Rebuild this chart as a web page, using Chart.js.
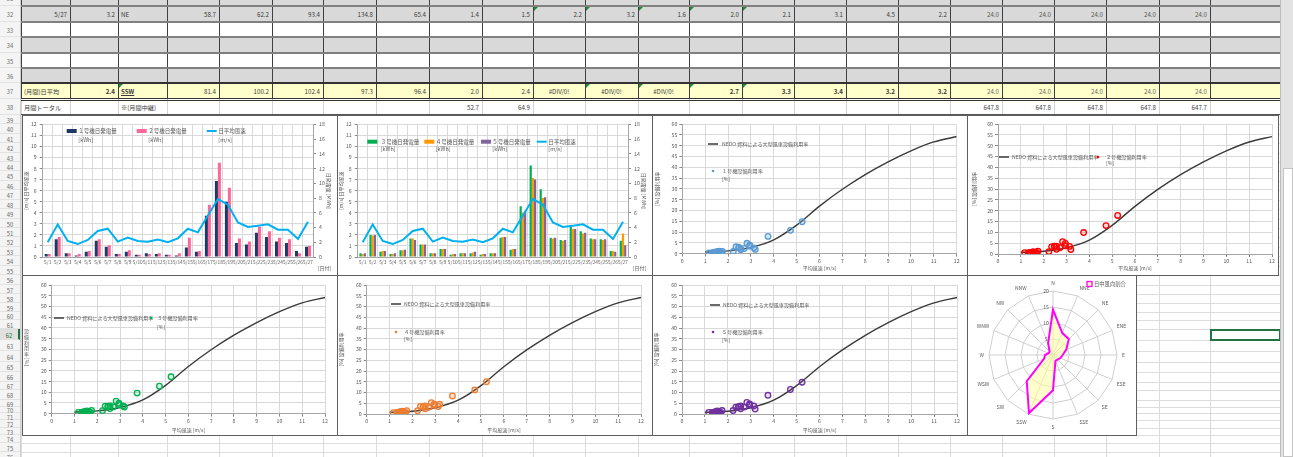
<!DOCTYPE html>
<html lang="ja">
<head>
<meta charset="utf-8">
<title>風力発電 月間集計</title>
<script src="https://cdn.jsdelivr.net/npm/chart.js@4.4.1/dist/chart.umd.min.js"></script>
<style>
html,body{margin:0;padding:0;background:#fff;}
body{width:1293px;height:457px;overflow:hidden;position:relative;font-family:"Noto Sans CJK JP","Noto Sans",sans-serif;}
#sheet{position:absolute;left:0;top:0;width:1293px;height:457px;}
.ln{position:absolute;box-sizing:border-box;}
.cell{position:absolute;box-sizing:border-box;font-size:6.2px;color:#3a3a3a;white-space:nowrap;padding:0 3px;}
.rh{position:absolute;left:0;width:20px;font-size:5.8px;color:#6a6a6a;text-align:center;box-sizing:border-box;}
.chartbox{position:absolute;box-sizing:border-box;border:1px solid #5f5f5f;background:#fff;}
.chartbox canvas{position:absolute;left:0;top:0;}
</style>
</head>
<body>
<div id="sheet"></div>
<script>
// ---- daily records (May) ----
const days = ['5/1','5/2','5/3','5/4','5/5','5/6','5/7','5/8','5/9','5/10','5/11','5/12','5/13','5/14',
  '5/15','5/16','5/17','5/18','5/19','5/20','5/21','5/22','5/23','5/24','5/25','5/26','5/27'];
// daily mean wind speed [m/s]
const windAvg = [1.33,2.95,1.45,1.17,1.54,2.35,2.56,1.39,1.75,1.45,1.39,1.57,1.33,1.69,
  2.56,2.23,3.75,5.24,4.73,3.13,2.71,2.83,2.95,2.47,2.47,1.63,3.19];
// daily generation per turbine
const gen1 = [0.4,2.4,0.5,0.2,0.7,2.2,1.4,0.4,0.7,0.3,0.5,0.4,0.3,0.2,1.3,0.7,5.6,10.3,7.5,1.9,1.7,3.3,2.7,2.1,1.9,0.8,1.4];
const gen2 = [0.4,2.7,0.5,0.4,0.8,2.4,1.6,0.4,0.9,0.3,0.4,0.5,0.3,0.5,2.6,0.8,7.1,12.8,9.4,2.5,2.1,4.1,3.5,2.6,2.4,0.5,1.5];
const gen3 = [0.5,3.0,0.7,0.4,0.9,2.5,1.7,0.5,1.1,0.3,0.5,0.5,0.3,0.5,2.6,1.0,6.9,12.4,9.2,2.6,2.3,4.2,3.5,2.5,2.4,0.8,2.2];
const gen4 = [0.4,2.9,0.8,0.4,0.9,2.5,1.7,0.5,1.1,0.4,0.5,0.6,0.4,0.5,2.7,1.1,6.0,10.7,8.0,2.5,2.2,3.8,3.2,2.4,2.3,0.8,3.2];
const gen5 = [0.5,3.0,0.8,0.5,1.0,2.3,1.7,0.5,1.1,0.4,0.5,0.7,0.4,0.5,2.7,1.1,6.2,10.5,8.1,2.6,2.3,3.8,3.3,2.4,2.4,0.7,1.6];
// daily capacity factor per turbine [%]
const cf1 = [0.5,3.5,0.7,0.3,1.0,3.2,2.0,0.6,1.0,0.4,0.7,0.6,0.4,0.3,1.9,1.0,8.0,14.8,10.8,2.7,2.4,4.8,3.9,3.0,2.7,1.2,2.0];
const cf2 = [0.5,3.8,0.7,0.6,1.1,3.3,2.2,0.6,1.3,0.4,0.6,0.7,0.4,0.7,3.6,1.1,9.9,17.8,13.1,3.5,2.9,5.7,4.9,3.6,3.3,0.7,2.1];
const cf3 = [0.7,4.2,1.0,0.6,1.3,3.5,2.4,0.7,1.5,0.4,0.7,0.7,0.4,0.7,3.6,1.4,9.6,17.2,12.8,3.6,3.2,5.8,4.9,3.5,3.3,1.1,3.1];
const cf4 = [0.6,4.0,1.1,0.6,1.3,3.5,2.4,0.7,1.5,0.6,0.7,0.8,0.6,0.7,3.8,1.5,8.4,15.0,11.2,3.5,3.1,5.3,4.5,3.4,3.2,1.1,4.5];
const cf5 = [0.7,4.2,1.1,0.7,1.4,3.2,2.4,0.7,1.6,0.6,0.7,1.0,0.6,0.7,3.8,1.6,8.7,14.8,11.4,3.7,3.2,5.4,4.7,3.4,3.4,1.0,2.3];
// NEDO reference curve for large turbines
const nedoSpeed = [1,2,3,4,5,6,7,8,9,10,11,12];
const nedoCF = [0.8,1.3,2.9,6.4,13.2,22.0,29.8,36.6,42.5,47.6,51.7,54.2];
// daytime wind direction share [%]
const directions = ['N','NNE','NE','ENE','E','ESE','SE','SSE','S','SSW','SW','WSW','W','WNW','NW','NNW'];
const dirShare = [14.2,7.5,7.0,4.5,3.0,2.5,2.0,2.0,11.0,19.6,11.6,3.0,2.5,1.5,1.5,4.0];
// sheet rows
const row32 = ['5/27','3.2','NE','58.7','62.2','93.4','134.8','65.4','1.4','1.5','2.2','3.2','1.6','2.0','2.1','3.1','4.5','2.2','24.0','24.0','24.0','24.0','24.0',''];
const row37 = ['(月間)日平均','2.4','SSW','81.4','100.2','102.4','97.3','96.4','2.0','2.4','#DIV/0!','#DIV/0!','#DIV/0!','2.7','3.3','3.4','3.2','3.2','24.0','24.0','24.0','24.0','24.0',''];
const row38 = ['月間トータル','','※(月間中継)','','','','','','52.7','64.9','','','','','','','','','647.8','647.8','647.8','647.8','647.7',''];

// ---- worksheet background ----
const sheet = document.getElementById('sheet');
const px = v => v + 'px';
function div(cls, css, text) {
  const d = document.createElement('div');
  d.className = cls;
  Object.assign(d.style, css);
  if (text != null) d.textContent = text;
  sheet.appendChild(d);
  return d;
}
const colEdges = [21,70,118,167,219,272,323,376,429,482,533,585,638,689,742,794,846,898,950,1002,1054,1106,1159,1210,1280];
const topEdges = [-10,6,22,37,53,68,83,99,115]; // rows 31..38
const lowEdges = [];
for (let i = 0; i <= 17; i++) lowEdges.push(115 + i * 160 / 17);
[285,294,303,312,320,329,340,351,362,372,382,390,400,407,413,420,428,435,443,452,461].forEach(v => lowEdges.push(v));

// light cell grid below the table
lowEdges.forEach(y => div('ln', {left:px(21), top:px(Math.round(y)), width:px(1259), height:'1px', background:'#dcdcdc'}));
colEdges.forEach(x => div('ln', {left:px(x), top:px(115), width:'1px', height:px(342), background:'#dcdcdc'}));

// row header column
div('ln', {left:0, top:0, width:px(21), height:px(457), background:'#f4f4f4', borderRight:'1px solid #cfcfcf'});
function rowHead(n, y0, y1) {
  const h = y1 - y0;
  const d = div('rh', {top:px(y0), height:px(h), lineHeight:px(h + 2), borderBottom:'1px solid #e2e2e2'}, String(n));
  if (n === 62) Object.assign(d.style, {color:'#217346', background:'#e0e0e0', borderRight:'2px solid #217346'});
}
for (let r = 31; r <= 38; r++) rowHead(r, topEdges[r - 31], topEdges[r - 30]);
for (let r = 39; r <= 76; r++) rowHead(r, lowEdges[r - 39], lowEdges[r - 38]);

// table rows 31..38
const rowFill = {31:'#d9d9d9',32:'#d9d9d9',33:'#ffffff',34:'#d9d9d9',35:'#ffffff',36:'#d9d9d9',37:'#ffffcc',38:'#ffffff'};
for (let r = 31; r <= 38; r++) {
  const y0 = topEdges[r - 31], y1 = topEdges[r - 30];
  div('ln', {left:px(21), top:px(y0), width:px(1259), height:px(y1 - y0), background:rowFill[r]});
  colEdges.forEach(x => div('ln', {left:px(x), top:px(y0), width:'1px', height:px(y1 - y0), background: r === 38 ? '#d4d4d4' : '#3f3f3f'}));
}
[6,22,37,53,68].forEach(y => div('ln', {left:px(21), top:px(y - 1), width:px(1259), height:'2px', background:'#808080'}));
div('ln', {left:px(21), top:px(82), width:px(1259), height:'2px', background:'#333'});
div('ln', {left:px(21), top:px(98), width:px(1259), height:'3px', borderTop:'1px solid #333', borderBottom:'1px solid #333'});
div('ln', {left:px(21), top:px(114), width:px(1259), height:'1px', background:'#555'});

function fillRow(vals, y0, y1, fmt) {
  vals.forEach((v, i) => {
    if (!v) return;
    const f = fmt(i, v);
    const css = {left:px(colEdges[i]), top:px(y0), width:px(colEdges[i + 1] - colEdges[i]), height:px(y1 - y0),
      lineHeight:px(y1 - y0 + 1), textAlign:f.align};
    if (f.bold) css.fontWeight = 'bold';
    if (f.underline) css.textDecoration = 'underline';
    if (f.color) css.color = f.color;
    div('cell', css, v);
  });
}
const numAlign = (i, v) => (i === 2 ? 'left' : (v.startsWith('#') ? 'center' : 'right'));
fillRow(row32, 6, 22, (i, v) => ({align: numAlign(i, v), color: i >= 18 ? '#555' : null}));
fillRow(row37, 83, 99, (i, v) => ({align: i === 0 ? 'left' : numAlign(i, v),
  bold: i === 1 || i === 2 || (i >= 13 && i <= 17), underline: i === 2, color: i >= 18 ? '#666' : null}));
fillRow(row38, 99, 115, (i, v) => ({align: (i === 0 || i === 2) ? 'left' : 'right'}));

// error-check markers
function flag(col, y) {
  div('ln', {left:px(colEdges[col] + 1), top:px(y), width:0, height:0,
    borderTop:'4px solid #1e8a3c', borderRight:'4px solid transparent'});
}
[10,11,12,13,14].forEach(c => flag(c, 7));
[2,11,12,13,14].forEach(c => flag(c, 84));

// selected cell and scroll bar
div('ln', {left:px(1210), top:px(329), width:px(71), height:px(12), border:'2px solid #217346'});
div('ln', {left:px(1280), top:0, width:px(13), height:px(457), background:'#e3e3e3', borderLeft:'1px solid #bdbdbd'});
div('ln', {left:px(1283), top:px(168), width:px(10), height:px(289), background:'#fff', border:'1px solid #c4c4c4'});

// ---- charts ----
Chart.defaults.font.family = '"Noto Sans CJK JP", "Noto Sans", sans-serif';
Chart.defaults.font.size = 5.2;
Chart.defaults.color = '#595959';
Chart.defaults.animation = false;

const GRID = '#d9d9d9', AXIS = '#a6a6a6', TICK = '#8c8c8c';
const TITLE_FONT = {size: 5};
const LEG_SIZE = 5.5;

// legend text and free labels placed inside the chart frame
const sheetLegend = {
  id: 'sheetLegend',
  afterDraw(chart, args, o) {
    if (!o || (!o.items && !o.texts)) return;
    const ctx = chart.ctx;
    const fnt = s => `${s}px "Noto Sans CJK JP", sans-serif`;
    ctx.save();
    ctx.textBaseline = 'middle';
    (o.items || []).forEach(it => {
      const y = it.y;
      if (it.kind === 'bar') {
        ctx.fillStyle = it.color; ctx.fillRect(it.x, y - 2, it.w || 10, 4);
      } else if (it.kind === 'line') {
        ctx.strokeStyle = it.color; ctx.lineWidth = it.lw || 2;
        ctx.beginPath(); ctx.moveTo(it.x, y); ctx.lineTo(it.x + (it.w || 10), y); ctx.stroke();
      } else if (it.kind === 'dot') {
        ctx.fillStyle = it.color; ctx.beginPath(); ctx.arc(it.x, y, 1.3, 0, Math.PI * 2); ctx.fill();
      } else if (it.kind === 'box') {
        ctx.fillStyle = it.fill; ctx.fillRect(it.x, y - 2.5, 5, 5);
        ctx.strokeStyle = it.color; ctx.lineWidth = 1.3; ctx.strokeRect(it.x, y - 2.5, 5, 5);
      }
      ctx.fillStyle = '#595959';
      ctx.font = fnt(o.size || LEG_SIZE);
      ctx.textAlign = 'left';
      it.text.forEach((t, i) => ctx.fillText(t, it.tx, y + i * (o.lh || 8)));
    });
    (o.texts || []).forEach(t => {
      ctx.fillStyle = '#595959';
      ctx.font = fnt(t.size || 5);
      if (t.stack) {
        ctx.textAlign = 'center';
        const lh = t.lh || 5.8;
        [...t.stack].forEach((ch, i) => ctx.fillText(ch, t.x, t.y + i * lh));
        if (t.rot) {
          const w = ctx.measureText(t.rot).width;
          ctx.save();
          ctx.translate(t.x, t.y + t.stack.length * lh + w / 2 - lh / 2 + 1);
          ctx.rotate(Math.PI / 2);
          ctx.fillText(t.rot, 0, 0);
          ctx.restore();
        }
      } else {
        ctx.textAlign = t.align || 'left';
        ctx.fillText(t.text, t.x, t.y);
      }
    });
    ctx.restore();
  }
};
Chart.register(sheetLegend);

function chartCanvas(x, y, w, h) {
  const box = div('chartbox', {left:px(x), top:px(y), width:px(w), height:px(h)});
  const c = document.createElement('canvas');
  c.width = w - 2; c.height = h - 2;
  c.style.width = px(w - 2); c.style.height = px(h - 2);
  box.appendChild(c);
  return c;
}

// daily generation (bars, right axis) with daily mean wind (line, left axis)
function genChart(canvas, bars, catPct, legend) {
  const datasets = [{type:'line', label:'日平均風速', data:windAvg, yAxisID:'y', borderColor:'#00b0f0',
    borderWidth:2, pointRadius:0, tension:0, order:0}];
  bars.forEach(b => datasets.push({type:'bar', label:b.label, data:b.data, yAxisID:'y1',
    backgroundColor:b.color, categoryPercentage:catPct, barPercentage:1.0, order:1}));
  return new Chart(canvas, {
    type: 'bar',
    data: {labels: days, datasets},
    options: {
      responsive:false, animation:false, devicePixelRatio:1,
      layout: {padding: {top:8.3, left:0, right:0, bottom:0}},
      plugins: {legend:{display:false}, tooltip:{enabled:false}, sheetLegend: legend},
      scales: {
        x: {grid:{color:GRID, offset:true, drawTicks:false}, border:{color:AXIS},
          ticks:{autoSkip:false, maxRotation:0, minRotation:0, padding:2, font:{size:4.8}},
          afterFit: s => { s.height = 18; }},
        y: {position:'left', min:0, max:12, ticks:{stepSize:1, padding:3},
          grid:{color:GRID, tickLength:3, tickColor:TICK}, border:{color:AXIS},
          title:{display:true, text:'[m/s] 日平均風速', font:TITLE_FONT, padding:{top:0, bottom:0}},
          afterFit: s => { s.width = 19.7; }},
        y1: {position:'right', min:0, max:18, ticks:{stepSize:2, padding:3},
          grid:{drawOnChartArea:false, tickLength:3, tickColor:TICK}, border:{color:AXIS},
          title:{display:true, text:'日発電量 [MWh]', font:TITLE_FONT, padding:{top:5, bottom:0}},
          afterFit: s => { s.width = 24; }}
      }
    }
  });
}

// capacity factor against mean wind speed, with the NEDO reference curve
function cfChart(canvas, g, unit, legend) {
  return new Chart(canvas, {
    type: 'scatter',
    data: {datasets: [
      {label:'NEDO 資料による大型風車設備利用率', data: nedoSpeed.map((s, i) => ({x:s, y:nedoCF[i]})),
        showLine:true, borderColor:'#3a3a3a', borderWidth:1.4, pointRadius:0,
        cubicInterpolationMode:'monotone', order:1},
      {label:unit.label, data: windAvg.map((w, i) => ({x:w, y:unit.cf[i]})),
        pointRadius:2.8, pointBorderWidth:1.3, borderColor:unit.color, backgroundColor:unit.fill, order:0}
    ]},
    options: {
      responsive:false, animation:false, devicePixelRatio:1,
      layout: {padding: {top:g.T, right:g.padR, left:0, bottom:0}},
      plugins: {legend:{display:false}, tooltip:{enabled:false}, sheetLegend: legend},
      scales: {
        x: {type:'linear', min:0, max:12, ticks:{stepSize:1, padding:1},
          grid:{color:GRID, tickLength:3, tickColor:TICK}, border:{color:AXIS},
          title:{display:true, text:'平均風速 [m/s]', font:TITLE_FONT, padding:{top:0, bottom:g.xtp}},
          afterFit: s => { s.height = g.xh; }},
        y: {min:0, max:60, ticks:{stepSize:5, padding:2},
          grid:{color:GRID, tickLength:3, tickColor:TICK}, border:{color:AXIS},
          title:{display:!g.stacked, text:'[%] 設備利用率', font:TITLE_FONT, padding:{top:g.ytp, bottom:0}},
          afterFit: s => { s.width = g.L; }}
      }
    }
  });
}

// row 1
genChart(chartCanvas(22, 115, 316, 161), [
  {label:'１号機日発電量', data:gen1, color:'#1f3864'},
  {label:'２号機日発電量', data:gen2, color:'#ff6699'}
], 0.6, {lh:9, items:[
  {kind:'bar', color:'#1f3864', x:43.7, y:15, tx:55.3, text:['１号機日発電量','[kWh]']},
  {kind:'bar', color:'#ff6699', x:113.7, y:15, tx:125.3, text:['２号機日発電量','[kWh]']},
  {kind:'line', color:'#00b0f0', x:183.7, y:15, tx:195.3, text:['日平均風速','[m/s]']}
], texts:[{text:'[日付]', x:294.7, y:152.3}]});

genChart(chartCanvas(337, 115, 316, 161), [
  {label:'３号機日発電量', data:gen3, color:'#00b050'},
  {label:'４号機日発電量', data:gen4, color:'#ff9900'},
  {label:'５号機日発電量', data:gen5, color:'#8064a2'}
], 0.66, {lh:7, items:[
  {kind:'bar', color:'#00b050', x:29.3, y:25.7, tx:42.7, text:['３号機日発電量','[kWh]']},
  {kind:'bar', color:'#ff9900', x:86.3, y:25.7, tx:97.7, text:['４号機日発電量','[kWh]']},
  {kind:'bar', color:'#8064a2', x:143, y:25.7, tx:154.3, text:['５号機日発電量','[kWh]']},
  {kind:'line', color:'#00b0f0', x:198.7, y:25.7, tx:210.3, text:['日平均風速','[m/s]']}
], texts:[{text:'[日付]', x:294.7, y:152.3}]});

const NEDO_TXT = 'NEDO 資料による大型風車設備利用率';
const CF_LEG = 5.1;
cfChart(chartCanvas(652, 115, 316, 161), {T:8, padR:10.3, L:29.3, xh:21.3, xtp:3.7, ytp:1.4},
  {label:'１号機設備利用率', cf:cf1, color:'#5b9bd5', fill:'rgba(91,155,213,0.25)'},
  {lh:8, size:CF_LEG, items:[
    {kind:'line', color:'#3a3a3a', lw:1.5, x:55, y:28, tx:69, text:[NEDO_TXT]},
    {kind:'dot', color:'#5b9bd5', x:60, y:55, tx:69, text:['１号機設備利用率','[%]']}
  ]});

cfChart(chartCanvas(967, 115, 312, 161), {T:8, padR:6, L:30, xh:21, xtp:3.7, ytp:3.4},
  {label:'２号機設備利用率', cf:cf2, color:'#ff0000', fill:'rgba(255,0,0,0.15)'},
  {lh:6.5, size:CF_LEG, items:[
    {kind:'line', color:'#3a3a3a', lw:1.5, x:31, y:41, tx:44, text:[NEDO_TXT]},
    {kind:'dot', color:'#ff0000', x:130, y:41, tx:138, text:['２号機設備利用率','[%]']}
  ]});

// row 2
cfChart(chartCanvas(22, 275, 316, 161), {T:9, padR:12, L:28.7, xh:21.3, xtp:2.4, ytp:0, stacked:true},
  {label:'３号機設備利用率', cf:cf3, color:'#00b050', fill:'rgba(0,176,80,0.15)'},
  {lh:9, size:CF_LEG, items:[
    {kind:'line', color:'#3a3a3a', lw:1.5, x:31, y:42, tx:44, text:[NEDO_TXT]},
    {kind:'dot', color:'#00b050', x:128, y:42, tx:134, text:['３号機設備利用率','[%]']}
  ], texts:[{stack:'設備利用率', rot:'[%]', x:3.5, y:55}]});

cfChart(chartCanvas(337, 275, 316, 161), {T:9, padR:11, L:28.7, xh:21, xtp:2.4, ytp:0},
  {label:'４号機設備利用率', cf:cf4, color:'#ed7d31', fill:'rgba(237,125,49,0.2)'},
  {lh:7.5, size:CF_LEG, items:[
    {kind:'line', color:'#3a3a3a', lw:1.5, x:53, y:28, tx:66, text:[NEDO_TXT]},
    {kind:'dot', color:'#ed7d31', x:58, y:56, tx:66, text:['４号機設備利用率','[%]']}
  ]});

cfChart(chartCanvas(652, 275, 316, 161), {T:9, padR:10, L:29, xh:21, xtp:2.4, ytp:0.5},
  {label:'５号機設備利用率', cf:cf5, color:'#7030a0', fill:'rgba(112,48,160,0.15)'},
  {lh:8, size:CF_LEG, items:[
    {kind:'line', color:'#3a3a3a', lw:1.5, x:57, y:29, tx:70, text:[NEDO_TXT]},
    {kind:'dot', color:'#7030a0', x:60, y:56, tx:69, text:['５号機設備利用率','[%]']}
  ]});

// daytime wind rose
new Chart(chartCanvas(967, 275, 170, 161), {
  type: 'radar',
  data: {labels: directions, datasets: [{label:'日中風向割合', data:dirShare, borderColor:'#ff00ff',
    borderWidth:2, backgroundColor:'rgba(255,255,160,0.55)', pointRadius:0, fill:true}]},
  options: {
    responsive:false, animation:false, devicePixelRatio:1,
    layout: {padding: 4},
    plugins: {legend:{display:false}, tooltip:{enabled:false},
      sheetLegend: {size:5.3, items:[{kind:'box', color:'#ff00ff', fill:'#ffffa0', x:119, y:8, tx:126, text:['日中風向割合']}]}},
    scales: {r: {min:0, max:20,
      ticks:{stepSize:5, showLabelBackdrop:false, backdropPadding:0, font:{size:5}, color:'#595959',
        callback: v => v + '\u2007\u2007\u2007\u2007\u2007'},
      grid:{color:'#cfcfcf'}, angleLines:{color:'#cfcfcf'},
      pointLabels:{font:{size:5}, padding:2.5, color:'#595959'}}}
  }
});
</script>
</body>
</html>
